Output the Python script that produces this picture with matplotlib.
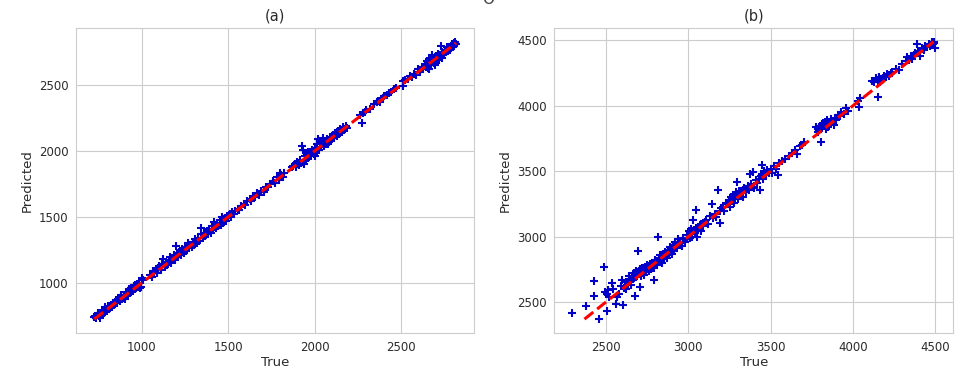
import matplotlib
matplotlib.use("Agg")
import matplotlib.pyplot as plt
import seaborn as sns

# panel (a): true vs predicted
true_a = [725, 730, 738, 745, 752, 760, 768, 775, 783, 790, 798, 805, 812, 820, 828,
          835, 842, 850, 858, 865, 872, 880, 887, 895, 902, 910, 918, 925, 932, 940,
          948, 955, 962, 970, 978, 985, 992, 745, 790, 835, 880, 925, 960, 760, 905,
          1000, 995, 1010,
          1050, 1058, 1065, 1072, 1080, 1088, 1095, 1102, 1110, 1118, 1125, 1132, 1140,
          1148, 1155, 1162, 1170, 1178, 1185, 1192, 1200, 1205, 1212, 1220, 1228, 1235,
          1242, 1250, 1258, 1265, 1272, 1280, 1288, 1295, 1302, 1310, 1318, 1325, 1332,
          1340, 1345, 1352, 1360, 1368, 1375, 1382, 1390, 1398, 1405, 1412, 1420, 1428,
          1435, 1442, 1450, 1458, 1465, 1472, 1480, 1488, 1495, 1502, 1510, 1518, 1525,
          1532, 1540,
          1555, 1565, 1575, 1590, 1600, 1612, 1625, 1635, 1645, 1655, 1668, 1680, 1692,
          1705, 1718, 1730, 1745, 1760, 1772, 1785, 1795, 1805, 1815, 1825, 1800, 1870,
          1875, 1885, 1892, 1900, 1908, 1915, 1922, 1930, 1935, 1940, 1945, 1950, 1958,
          1965, 1972, 1980, 1988, 1995, 2002, 2010, 2015, 2020, 2025, 2032, 2040, 2045,
          2052, 2060, 2068, 2075, 2082, 2090, 2098, 2105, 2112, 2120, 2128, 2135, 2142,
          2150, 2158, 2165, 2172, 2180, 2190, 2050, 1960, 2000, 2080,
          2265, 2272, 2280, 2290, 2300, 2320, 2345, 2360, 2370, 2380, 2395, 2405, 2420,
          2430, 2445, 2460, 2470,
          2510, 2515, 2525,
          2540, 2555, 2565, 2575, 2590, 2600, 2610, 2620, 2630, 2640, 2645, 2650, 2655,
          2660, 2665, 2670, 2675, 2680, 2685, 2690, 2695, 2700, 2705, 2710, 2715, 2720,
          2725, 2730, 2735, 2740, 2745, 2750, 2755, 2760, 2765, 2770, 2775, 2780, 2785,
          2790, 2795, 2800, 2805, 2810, 2815, 2820, 2660, 2700]
pred_a = [740, 752, 730, 760, 745, 775, 760, 790, 770, 805, 790, 825, 800, 835, 818,
          850, 830, 870, 845, 880, 860, 900, 875, 910, 890, 930, 905, 940, 920, 960,
          935, 975, 950, 990, 965, 1000, 960, 770, 815, 840, 905, 950, 985, 735, 880,
          1040, 970, 1020,
          1060, 1045, 1090, 1080, 1100, 1075, 1110, 1130, 1100, 1140, 1180, 1120, 1160,
          1135, 1175, 1200, 1150, 1190, 1215, 1170, 1280, 1225, 1195, 1240, 1210, 1255,
          1230, 1270, 1240, 1300, 1265, 1285, 1270, 1310, 1290, 1330, 1300, 1340, 1320,
          1370, 1420, 1340, 1380, 1355, 1395, 1370, 1410, 1380, 1430, 1400, 1460, 1415,
          1450, 1430, 1480, 1440, 1500, 1455, 1490, 1470, 1510, 1490, 1520, 1500, 1540,
          1520, 1545,
          1560, 1550, 1585, 1600, 1590, 1625, 1640, 1620, 1660, 1650, 1680, 1670, 1700,
          1690, 1730, 1725, 1750, 1770, 1760, 1800, 1780, 1820, 1800, 1830, 1830, 1880,
          1890, 1900, 1880, 1920, 1895, 1935, 1910, 2040, 2010, 1900, 1960, 1930, 1975,
          1950, 1990, 1965, 2005, 1980, 2020, 1990, 2050, 2090, 2010, 2060, 2030, 2070,
          2040, 2080, 2055, 2095, 2070, 2110, 2085, 2120, 2100, 2135, 2115, 2150, 2130,
          2165, 2145, 2180, 2160, 2190, 2175, 2100, 1990, 1960, 2050,
          2270, 2210, 2290, 2300, 2310, 2320, 2355, 2370, 2380, 2375, 2400, 2420, 2425,
          2440, 2450, 2470, 2480,
          2490, 2530, 2540,
          2550, 2570, 2560, 2585, 2580, 2620, 2600, 2640, 2620, 2660, 2640, 2680, 2630,
          2700, 2650, 2690, 2660, 2730, 2690, 2670, 2710, 2680, 2720, 2700, 2740, 2690,
          2730, 2800, 2710, 2750, 2730, 2740, 2770, 2750, 2790, 2760, 2780, 2790, 2770,
          2800, 2810, 2790, 2820, 2800, 2830, 2810, 2620, 2650]
line_a = [725, 2820]

# panel (b): true vs predicted
true_b = [2297, 2378, 2430, 2430, 2458, 2490, 2504, 2495, 2505, 2515, 2520, 2538, 2545,
          2564, 2570, 2580, 2590, 2595, 2604, 2610, 2620, 2625, 2635, 2640, 2645,
          2650, 2655, 2660, 2665, 2670, 2675, 2680, 2685, 2690, 2695, 2700, 2705, 2708,
          2712, 2716, 2720, 2725, 2730, 2735, 2740, 2745, 2750, 2755, 2760, 2765, 2770,
          2775, 2780, 2785, 2790, 2795, 2800, 2805, 2810, 2815, 2820, 2825, 2830, 2835,
          2840, 2845, 2850, 2855, 2860, 2865, 2870, 2875, 2880, 2885, 2890, 2895, 2900,
          2905, 2910, 2915, 2920, 2925, 2930, 2940, 2950, 2960, 2970, 2980, 2990, 2995,
          3005, 3010, 3015, 3020, 3025, 3030, 3035, 3040, 3047, 3050, 3055, 3060, 3070,
          3075, 3080, 3090, 3100, 3110, 3120, 3130, 3143, 3150, 3160, 3170, 3183, 3190,
          3194, 3200,
          3210, 3220, 3230, 3240, 3250, 3255, 3260, 3265, 3270, 3275, 3280, 3285, 3290,
          3294, 3300, 3305, 3310, 3320, 3330, 3335, 3340, 3350, 3360, 3370, 3375, 3380,
          3390, 3395, 3400, 3410, 3420, 3430, 3435, 3440, 3445, 3450, 3455, 3460, 3470,
          3480, 3490,
          3500, 3510, 3520, 3530, 3545, 3550, 3570, 3590, 3610, 3630, 3650, 3660, 3680,
          3690, 3700,
          3777, 3785, 3790, 3800, 3805, 3810, 3815, 3820, 3825, 3830, 3835, 3840, 3845,
          3850, 3860, 3870, 3880, 3885, 3890, 3900, 3910, 3920, 3930, 3945, 3960, 3970,
          4030, 4037, 4045,
          4118, 4130, 4140, 4150, 4155, 4160, 4165, 4170, 4180, 4190, 4200, 4210, 4220,
          4230, 4240, 4260, 4280, 4300, 4320, 4330, 4340, 4350, 4360, 4370, 4380, 4390,
          4395, 4400, 4410, 4420, 4430, 4440, 4450, 4460, 4470, 4480, 4485, 4490, 4495,
          4500]
pred_b = [2420, 2470, 2545, 2665, 2374, 2772, 2432, 2575, 2560, 2595, 2540, 2647, 2600,
          2483, 2540, 2560, 2625, 2672, 2475, 2610, 2650, 2600, 2640, 2700, 2680,
          2660, 2630, 2700, 2680, 2720, 2546, 2690, 2740, 2700, 2887, 2720, 2612, 2750,
          2730, 2700, 2760, 2740, 2710, 2770, 2750, 2730, 2780, 2760, 2740, 2790, 2770,
          2750, 2800, 2780, 2760, 2672, 2820, 2800, 2780, 3001, 2840, 2810, 2860, 2830,
          2800, 2870, 2850, 2830, 2880, 2860, 2840, 2900, 2880, 2860, 2920, 2900, 2870,
          2940, 2920, 2890, 2960, 2930, 2910, 2980, 2950, 2930, 2990, 2960, 3010, 2980,
          3040, 2990, 3060, 3020, 3000, 3130, 3050, 3030, 3204, 3070, 3000, 3060, 3090,
          3040, 3100, 3080, 3110, 3130, 3100, 3160, 3250, 3140, 3170, 3150, 3356, 3200,
          3103, 3220,
          3230, 3200, 3260, 3250, 3280, 3230, 3300, 3270, 3320, 3290, 3260, 3310, 3340,
          3419, 3320, 3290, 3350, 3330, 3360, 3300, 3370, 3340, 3390, 3360, 3482, 3400,
          3380, 3495, 3370, 3430, 3410, 3440, 3356, 3460, 3545, 3480, 3440, 3500, 3470,
          3510, 3490,
          3520, 3490, 3540, 3520, 3470, 3560, 3580, 3590, 3620, 3640, 3660, 3630, 3690,
          3700, 3720,
          3836, 3820, 3800, 3840, 3722, 3860, 3830, 3870, 3850, 3880, 3820, 3890, 3860,
          3840, 3870, 3900, 3880, 3850, 3910, 3890, 3930, 3920, 3950, 3940, 3980, 3960,
          4040, 3991, 4060,
          4193, 4180, 4210, 4190, 4067, 4220, 4180, 4200, 4210, 4230, 4220, 4240, 4230,
          4250, 4260, 4280, 4270, 4320, 4340, 4370, 4350, 4380, 4360, 4390, 4400, 4472,
          4420, 4410, 4380, 4440, 4430, 4460, 4450, 4470, 4460, 4484, 4470, 4490, 4480,
          4440]
line_b = [2370, 4490]

sns.set_style("whitegrid")
plt.rcParams["font.family"] = ["DejaVu Sans"]

fig = plt.figure(figsize=(9.64, 3.81), dpi=100)
ax1 = fig.add_axes([0.079, 0.126, 0.413, 0.801])
ax2 = fig.add_axes([0.575, 0.126, 0.414, 0.801])

panels = [(ax1, true_a, pred_a, line_a, "(a)"),
          (ax2, true_b, pred_b, line_b, "(b)")]
for ax, t, p, ln, title in panels:
    ax.scatter(t, p, marker="+", color="#0000c8", s=34, linewidths=1.5)
    ax.plot(ln, ln, "r--", lw=2.2)
    ax.set_xlabel("True", fontsize=9.5, color="#2b2b2b", labelpad=2)
    ax.set_ylabel("Predicted", fontsize=9.5, color="#2b2b2b", labelpad=4)
    ax.set_title(title, fontsize=10.5, color="#2b2b2b", pad=5)
    ax.tick_params(labelsize=8.5, colors="#2b2b2b", pad=2)

ax1.set_xticks([1000, 1500, 2000, 2500])
ax1.set_yticks([1000, 1500, 2000, 2500])
ax2.set_xticks([2500, 3000, 3500, 4000, 4500])
ax2.set_yticks([2500, 3000, 3500, 4000, 4500])

# clipped text fragment at the top edge
fig.text(488 / 964, 1.0, "O", ha="center", va="center", fontsize=11, color="#444444")

fig.savefig("out.png", dpi=100)
